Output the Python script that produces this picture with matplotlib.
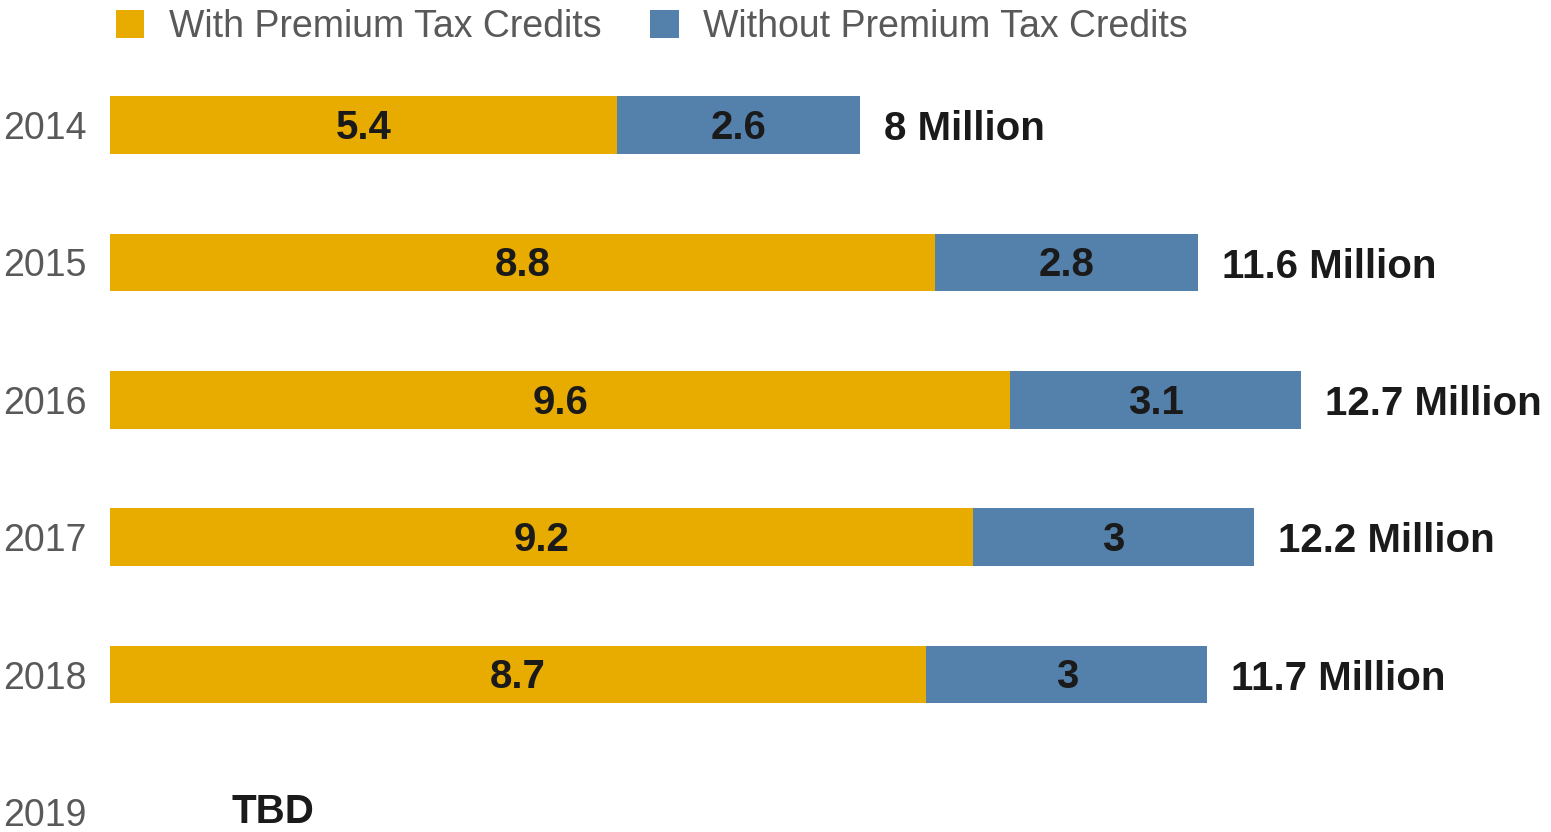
import numpy as np
import matplotlib.pyplot as plt

plt.rcParams['font.family'] = ['Liberation Sans', 'DejaVu Sans']

# enrollment in millions
years = ['2014', '2015', '2016', '2017', '2018', '2019']
with_ptc = [5.4, 8.8, 9.6, 9.2, 8.7, np.nan]
without_ptc = [2.6, 2.8, 3.1, 3.0, 3.0, np.nan]

gold = '#E8AB00'
blue = '#5381AB'
grey = '#595959'
dark = '#1A1A1A'

W, H = 1551, 832
fig = plt.figure(figsize=(W / 100, H / 100), dpi=100)
left_px = 110
ax = fig.add_axes([left_px / W, 0, 1 - left_px / W, 1])

y = np.arange(len(years))
w = np.array(with_ptc)
wo = np.array(without_ptc)

b1 = ax.barh(y, w, height=0.42, color=gold, label='With Premium Tax Credits')
b2 = ax.barh(y, wo, left=w, height=0.42, color=blue, label='Without Premium Tax Credits')

# segment values
for bars, vals in ((b1, w), (b2, wo)):
    for rect, v in zip(bars, vals):
        if np.isnan(v):
            continue
        ax.text(rect.get_x() + rect.get_width() / 2, rect.get_y() + rect.get_height() / 2 + 0.02,
                f'{v:g}', ha='center', va='center', fontsize=29, fontweight='bold', color=dark)

# totals
for yi, a, b in zip(y, w, wo):
    if np.isnan(a):
        ax.text(1.3, yi, 'TBD', ha='left', va='center', fontsize=29, fontweight='bold', color=dark)
        continue
    tot = round(a + b, 1)
    ax.text(tot + 0.25, yi + 0.03, f'{tot:g} Million', ha='left', va='center',
            fontsize=29, fontweight='bold', color=dark)

# ~93.8 px per unit; rows ~137px apart
px = 93.8
ax.set_xlim(0, (W - left_px) / px)
ax.set_ylim((H - 125) / 137.4, -125 / 137.4)

ax.set_yticks(y)
ax.set_yticklabels(years, fontsize=27, color=grey)
ax.tick_params(axis='y', length=0, pad=17)
ax.set_xticks([])
for s in ax.spines.values():
    s.set_visible(False)

fig.legend(handles=[b1, b2], loc='upper left', bbox_to_anchor=(82 / W, 1.03),
           ncol=2, frameon=False, fontsize=27, labelcolor=grey,
           handlelength=0.76, handleheight=0.76, handletextpad=0.65, columnspacing=1.3)

fig.savefig('out.png', dpi=100)
